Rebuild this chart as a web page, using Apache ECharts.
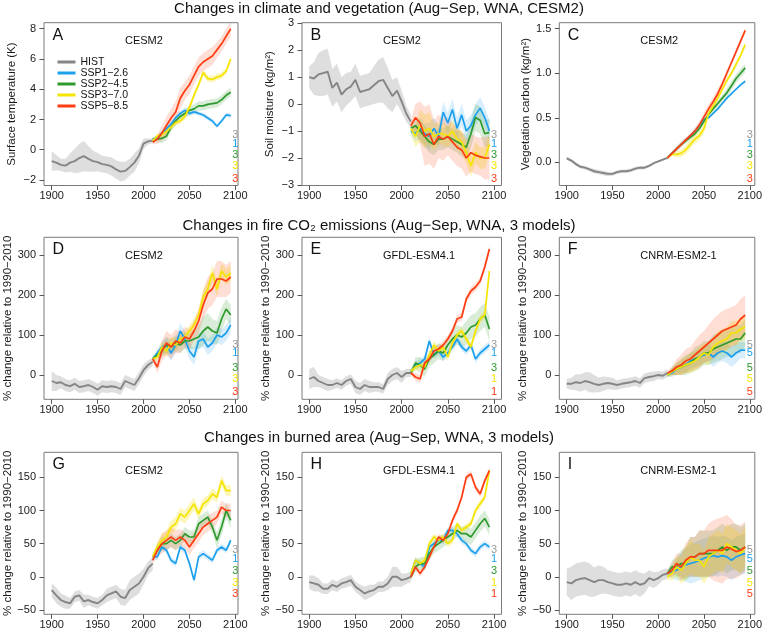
<!DOCTYPE html>
<html><head><meta charset="utf-8">
<script src="https://cdn.jsdelivr.net/npm/echarts@6/dist/echarts.min.js"></script>
<style>html,body{margin:0;padding:0;background:#fff}#c{width:765px;height:633px}</style>
</head><body><div id="c"></div>
<script>
// ---------------- DATA ----------------
const histYears = [1900,1905,1910,1915,1920,1925,1930,1935,1940,1945,1950,1955,1960,1965,1970,1975,1980,1985,1990,1995,2000,2005,2010];
const sspYears = [2010,2015,2020,2025,2030,2035,2040,2045,2050,2055,2060,2065,2070,2075,2080,2085,2090,2095];
const scenarioNames = ['HIST','SSP1−2.6','SSP2−4.5','SSP3−7.0','SSP5−8.5'];
const xTicks = [1900,1950,2000,2050,2100];
const rowTitles = ['Changes in climate and vegetation (Aug−Sep, WNA, CESM2)','Changes in fire CO₂ emissions (Aug−Sep, WNA, 3 models)','Changes in burned area (Aug−Sep, WNA, 3 models)'];

// Panel A: surface temperature (K), CESM2
const histA = [-0.75,-0.85,-1.0,-1.05,-0.85,-0.75,-0.55,-0.42,-0.6,-0.75,-0.82,-0.95,-1.0,-1.1,-1.3,-1.45,-1.4,-1.15,-0.85,-0.4,0.4,0.55,0.6];
const histBandA = [0.65,0.5,0.4,0.45,0.6,0.8,0.95,1.0,0.85,0.7,0.6,0.55,0.55,0.6,0.6,0.65,0.6,0.55,0.6,0.5,0.35,0.2,0.15];
const ssp126A = [0.7,0.8,1.1,1.4,1.7,2.1,2.4,2.6,2.4,2.5,2.4,2.3,2.1,1.9,1.55,1.9,2.3,2.25];
const ssp245A = [0.7,0.7,0.75,0.9,1.5,1.9,2.2,2.4,2.6,2.7,2.9,2.9,3.0,3.05,3.1,3.3,3.6,3.8];
const ssp370A = [0.6,0.9,1.0,1.2,1.5,1.8,1.9,2.2,2.8,3.6,4.3,5.1,4.7,4.65,4.8,4.9,5.2,6.0];
const ssp585A = [0.5,0.7,1.1,1.6,2.1,2.5,3.4,3.9,4.3,4.9,5.5,5.8,6.0,6.2,6.6,7.0,7.5,8.0];
const band126A = [0.1,0.15,0.2,0.2,0.2,0.2,0.2,0.2,0.2,0.15,0.15,0.15,0.15,0.15,0.15,0.15,0.15,0.15];
const band245A = [0.1,0.2,0.3,0.3,0.3,0.3,0.3,0.3,0.3,0.3,0.3,0.3,0.3,0.3,0.3,0.3,0.3,0.3];
const band370A = [0.1,0.15,0.2,0.2,0.2,0.2,0.2,0.2,0.2,0.2,0.2,0.2,0.2,0.2,0.2,0.2,0.2,0.2];
const band585A = [0.15,0.3,0.5,0.6,0.6,0.7,0.7,0.6,0.6,0.6,0.6,0.6,0.6,0.6,0.5,0.5,0.5,0.5];

// Panel B: soil moisture, CESM2
const histB = [1.0,0.95,1.1,1.15,1.2,0.6,0.8,0.35,0.55,0.65,0.9,0.45,0.5,0.55,0.7,0.85,0.9,0.6,0.3,0.5,0.1,-0.35,-0.65];
const histBandB = [0.4,0.6,0.8,0.85,0.85,0.7,0.7,0.65,0.6,0.55,0.6,0.6,0.6,0.6,0.7,0.8,0.85,0.75,0.6,0.5,0.4,0.3,0.25];
const ssp126B = [-1.0,-1.1,-0.9,-1.1,-1.2,-0.9,-1.2,-0.3,-0.7,-0.2,-0.9,-0.4,-1.0,-0.8,-0.4,-0.15,-0.5,-1.0];
const ssp245B = [-0.9,-0.8,-1.0,-1.2,-1.4,-1.5,-1.3,-1.3,-1.2,-1.3,-1.4,-1.5,-1.6,-1.1,-0.5,-0.6,-1.1,-1.05];
const ssp370B = [-0.9,-1.2,-0.8,-1.0,-0.9,-1.2,-1.1,-1.1,-1.2,-1.0,-1.3,-1.4,-1.8,-2.3,-1.8,-2.0,-2.0,-1.5];
const ssp585B = [-0.8,-0.5,-0.7,-1.2,-1.1,-1.5,-1.2,-1.3,-1.2,-1.4,-1.6,-1.7,-2.0,-1.8,-1.9,-1.95,-2.0,-2.0];
const band126B = [0.2,0.3,0.4,0.4,0.5,0.4,0.4,0.4,0.4,0.4,0.4,0.4,0.4,0.4,0.4,0.4,0.4,0.4];
const band245B = [0.2,0.3,0.4,0.4,0.4,0.4,0.4,0.4,0.4,0.4,0.4,0.45,0.45,0.5,0.5,0.5,0.5,0.5];
const band370B = [0.2,0.4,0.6,0.6,0.6,0.5,0.4,0.4,0.4,0.4,0.4,0.4,0.4,0.4,0.4,0.4,0.4,0.4];
const band585B = [0.2,0.5,0.8,1.1,1.1,0.9,0.8,0.8,0.7,0.7,0.7,0.7,0.7,0.7,0.7,0.7,0.8,0.8];

// Panel C: vegetation carbon, CESM2
const histC = [0.045,0.02,-0.02,-0.05,-0.06,-0.08,-0.1,-0.11,-0.12,-0.13,-0.13,-0.11,-0.1,-0.1,-0.09,-0.07,-0.06,-0.06,-0.04,-0.01,0.01,0.03,0.05];
const histBandC = [0.02,0.02,0.02,0.02,0.02,0.02,0.025,0.025,0.025,0.025,0.02,0.02,0.02,0.02,0.02,0.02,0.02,0.02,0.015,0.015,0.01,0.01,0.01];
const ssp126C = [0.05,0.1,0.15,0.2,0.25,0.3,0.35,0.42,0.48,0.5,0.55,0.6,0.66,0.72,0.77,0.82,0.87,0.91];
const ssp245C = [0.05,0.1,0.15,0.2,0.24,0.28,0.32,0.38,0.46,0.54,0.6,0.66,0.72,0.78,0.86,0.94,1.0,1.06];
const ssp370C = [0.05,0.09,0.09,0.1,0.14,0.2,0.26,0.3,0.38,0.55,0.63,0.72,0.82,0.92,1.0,1.1,1.2,1.32];
const ssp585C = [0.05,0.1,0.15,0.2,0.25,0.3,0.35,0.42,0.51,0.6,0.68,0.77,0.88,1.0,1.12,1.24,1.36,1.48];
const band126C = [0.01,0.01,0.015,0.015,0.015,0.015,0.015,0.015,0.015,0.015,0.015,0.015,0.015,0.015,0.015,0.015,0.015,0.015];
const band245C = [0.01,0.02,0.02,0.03,0.03,0.03,0.03,0.03,0.03,0.03,0.03,0.04,0.04,0.05,0.05,0.05,0.05,0.05];
const band370C = [0.01,0.02,0.03,0.04,0.05,0.05,0.05,0.05,0.05,0.04,0.03,0.03,0.03,0.03,0.03,0.03,0.03,0.03];
const band585C = [0.01,0.02,0.03,0.03,0.03,0.03,0.04,0.04,0.05,0.05,0.05,0.05,0.04,0.04,0.03,0.03,0.03,0.03];

// Panel D: fire CO2, CESM2
const histD = [-15,-20,-18,-25,-28,-22,-30,-28,-25,-30,-37,-28,-30,-28,-30,-35,-15,-20,-25,-8,12,25,33];
const histBandD = [25,20,15,15,15,15,15,15,15,15,15,15,15,15,15,15,15,15,15,15,15,12,10];
const ssp126D = [40,55,70,75,55,75,110,90,60,45,85,90,70,80,100,95,105,125];
const ssp245D = [40,50,60,75,70,80,75,85,85,90,95,110,120,110,105,140,165,150];
const ssp370D = [40,45,70,60,80,75,90,95,110,125,150,195,215,255,215,260,245,255];
const ssp585D = [40,20,60,80,70,85,80,95,90,110,135,175,205,215,240,240,235,245];
const band126D = [5,10,15,20,20,20,20,20,20,20,20,20,20,20,20,20,20,20];
const band245D = [5,10,15,20,20,20,20,20,20,25,30,35,35,30,30,30,25,25];
const band370D = [5,10,15,15,15,15,15,15,15,15,15,20,20,20,20,20,20,20];
const band585D = [5,15,25,30,30,30,25,25,25,25,30,35,40,40,45,45,40,40];

// Panel E: fire CO2, GFDL-ESM4.1
const histE = [-10,-5,-15,-20,-25,-25,-20,-25,-15,-10,-30,-35,-25,-30,-30,-30,-35,-10,0,5,-5,5,5];
const histBandE = [25,25,15,15,15,12,12,12,12,12,15,15,15,15,12,12,12,15,15,15,15,10,10];
const ssp126E = [10,25,30,40,85,50,60,45,55,70,90,70,60,75,40,55,65,75];
const ssp245E = [5,30,25,15,40,50,60,55,75,90,100,95,105,120,125,140,150,115];
const ssp370E = [10,20,25,20,50,75,60,70,45,80,100,110,90,70,110,140,150,260];
const ssp585E = [5,-5,-10,30,40,60,65,75,90,110,140,145,190,210,220,235,270,315];
const band126E = [5,10,10,10,10,10,10,10,10,10,10,10,10,10,10,10,10,10];
const band245E = [5,15,20,20,20,20,20,20,20,25,25,25,30,30,30,30,30,30];
const band370E = [5,10,10,10,10,10,10,10,10,10,10,10,10,10,10,10,10,10];
const band585E = [5,10,10,10,10,10,10,10,10,10,10,10,10,10,10,10,10,10];

// Panel F: fire CO2, CNRM-ESM2-1
const histF = [-22,-22,-18,-20,-15,-18,-22,-25,-22,-20,-22,-25,-22,-20,-18,-15,-20,-8,-5,-3,0,-2,5];
const histBandF = [12,15,20,22,22,25,22,18,18,15,15,12,12,12,12,12,12,12,12,12,10,10,10];
const ssp126F = [0,5,15,20,25,35,40,45,50,55,45,55,60,55,45,55,62,62];
const ssp245F = [0,10,15,20,25,30,40,45,55,55,65,70,75,80,85,90,90,105];
const ssp370F = [0,8,15,20,25,30,35,45,55,50,70,80,85,90,105,105,115,120];
const ssp585F = [5,10,20,25,35,40,50,60,70,80,90,100,110,115,120,125,140,150];
const band126F = [5,10,15,15,20,20,20,20,20,20,25,25,25,25,25,25,20,20];
const band245F = [5,10,15,20,25,25,30,30,30,30,35,35,35,35,35,35,35,35];
const band370F = [5,10,15,20,20,25,25,25,25,25,25,30,30,30,30,30,30,30];
const band585F = [5,10,20,25,30,30,35,40,40,45,50,50,50,50,50,50,50,50];

// Panel G: burned area, CESM2
const histG = [-20,-28,-35,-38,-40,-30,-28,-37,-35,-38,-40,-35,-28,-25,-22,-30,-32,-20,-15,-10,0,13,20];
const histBandG = [10,12,10,10,8,8,8,10,8,8,8,8,10,10,10,12,12,15,15,15,12,10,10];
const ssp126G = [30,30,45,40,25,20,45,40,20,-5,30,35,30,25,40,45,40,55];
const ssp245G = [30,40,50,50,55,50,55,65,60,60,80,85,90,75,55,75,100,85];
const ssp370G = [30,45,55,60,75,80,95,90,100,110,95,110,115,125,120,145,130,130];
const ssp585G = [25,40,50,55,60,55,60,55,45,55,65,75,80,85,90,105,100,100];
const band126G = [5,5,5,5,5,5,5,5,5,5,5,5,5,5,5,5,5,5];
const band245G = [5,8,10,10,10,10,10,10,10,10,10,10,10,10,12,12,12,12];
const band370G = [5,8,10,10,10,10,10,10,10,10,8,8,8,8,8,8,8,8];
const band585G = [5,10,15,15,15,15,12,12,12,12,12,12,12,12,10,10,10,10];

// Panel H: burned area, GFDL-ESM4.1
const histH = [-8,-10,-12,-18,-18,-12,-15,-10,-8,-5,-15,-20,-25,-22,-20,-15,-15,-10,0,0,-5,-3,0];
const histBandH = [10,12,10,8,8,8,8,8,8,8,8,8,10,10,8,8,8,10,15,15,10,8,8];
const ssp126H = [5,25,20,15,45,50,55,55,70,70,65,55,50,40,35,45,50,45];
const ssp245H = [0,15,20,20,35,45,50,55,60,65,70,65,65,60,70,80,88,75];
const ssp370H = [5,25,20,25,50,60,55,60,50,55,80,70,75,80,100,110,120,160];
const ssp585H = [0,15,5,15,30,45,60,55,65,85,100,120,150,155,135,125,145,160];
const band126H = [4,5,5,5,5,5,5,5,5,5,5,5,5,5,5,5,5,5];
const band245H = [5,8,10,10,10,10,10,10,10,10,10,10,12,12,12,12,12,12];
const band370H = [4,5,5,5,5,5,5,5,5,5,5,5,5,5,5,5,5,5];
const band585H = [4,5,5,5,5,5,5,5,5,5,5,5,5,5,5,5,5,5];

// Panel I: burned area, CNRM-ESM2-1
const histI = [-8,-10,-5,-3,-2,-5,-8,-5,-5,-8,-10,-12,-12,-10,-12,-8,-12,-10,-2,-5,-2,3,5];
const histBandI = [20,25,25,25,25,25,22,22,20,18,18,18,18,18,18,18,18,15,12,12,10,8,8];
const ssp126I = [5,8,10,15,18,20,22,25,28,30,32,30,32,30,25,30,33,35];
const ssp245I = [5,15,15,20,20,30,30,35,35,35,35,40,45,40,45,45,40,45];
const ssp370I = [0,5,15,10,20,30,25,25,15,30,35,40,35,50,45,40,35,45];
const ssp585I = [5,10,20,15,25,30,30,35,35,40,40,40,40,45,42,38,40,45];
const band126I = [5,10,15,20,25,30,30,30,30,30,30,30,30,30,30,30,30,30];
const band245I = [5,10,15,20,25,30,30,35,35,35,35,35,35,35,35,35,35,35];
const band370I = [5,10,15,20,25,25,25,25,25,30,30,30,30,30,30,30,30,30];
const band585I = [5,10,15,20,25,30,30,35,35,40,45,48,50,48,45,40,38,38];

// member counts (right-side labels)
const countsA = [3,1,3,3,3], countsB = [3,1,3,3,3], countsC = [3,1,3,3,3];
const countsD = [3,1,3,3,3], countsE = [3,1,3,1,1], countsF = [5,5,5,5,5];
const countsG = [3,1,3,3,3], countsH = [3,1,3,1,1], countsI = [5,5,5,5,5];

// ---------------- STYLE / LAYOUT ----------------
const FONT = '"Liberation Sans", Arial, Helvetica, sans-serif';
const colors = ['#858585','#1ca0ee','#2e9a2e','#f5e400','#ff3c12'];
const bandColors = ['#bdbdbd','#3aaaf0','#3a9e3a','#f5e400','#ff6a40'];
const bandOpacity = [0.5, 0.2, 0.2, 0.28, 0.22];
const colLeft = [44, 302, 559.3], colWidth = [194, 199.5, 195.7];
const colXMin = [1891.6, 1892.2, 1891.9], colXMax = [2102.9, 2108.1, 2105.5];
const rowTop = [22.7, 237.3, 452.3], rowHeight = [162.8, 162, 162];
const rowTitleY = [9, 225.7, 438.3];
const countOffsets = [[112,121.5,132.5,143.5,156],[107.5,116,130.5,142,155],[97.5,107,119,131,142]];
const yPct = '% change relative to 1990−2010';

const panels = [
  {letter:'A', model:'CESM2', row:0, col:0, yName:'Surface temperature (K)', yMin:-2.364, yMax:8.397, yTicks:[-2,0,2,4,6,8], dec:0, nameGap:26, hist:histA, histBand:histBandA, ssp:[ssp126A,ssp245A,ssp370A,ssp585A], band:[band126A,band245A,band370A,band585A], counts:countsA},
  {letter:'B', model:'CESM2', row:0, col:1, yName:'Soil moisture (kg/m²)', yMin:-3.02, yMax:3.02, yTicks:[-3,-2,-1,0,1,2,3], dec:0, nameGap:26.5, hist:histB, histBand:histBandB, ssp:[ssp126B,ssp245B,ssp370B,ssp585B], band:[band126B,band245B,band370B,band585B], counts:countsB},
  {letter:'C', model:'CESM2', row:0, col:2, yName:'Vegetation carbon (kg/m²)', yMin:-0.26, yMax:1.567, yTicks:[0,0.5,1.0,1.5], dec:1, nameGap:26, hist:histC, histBand:histBandC, ssp:[ssp126C,ssp245C,ssp370C,ssp585C], band:[band126C,band245C,band370C,band585C], counts:countsC},
  {letter:'D', model:'CESM2', row:1, col:0, yName:yPct, yMin:-60.75, yMax:344.25, yTicks:[0,100,200,300], dec:0, nameGap:29, hist:histD, histBand:histBandD, ssp:[ssp126D,ssp245D,ssp370D,ssp585D], band:[band126D,band245D,band370D,band585D], counts:countsD},
  {letter:'E', model:'GFDL-ESM4.1', row:1, col:1, yName:yPct, yMin:-60.75, yMax:344.25, yTicks:[0,100,200,300], dec:0, nameGap:30, hist:histE, histBand:histBandE, ssp:[ssp126E,ssp245E,ssp370E,ssp585E], band:[band126E,band245E,band370E,band585E], counts:countsE},
  {letter:'F', model:'CNRM-ESM2-1', row:1, col:2, yName:yPct, yMin:-60.75, yMax:344.25, yTicks:[0,100,200,300], dec:0, nameGap:30, hist:histF, histBand:histBandF, ssp:[ssp126F,ssp245F,ssp370F,ssp585F], band:[band126F,band245F,band370F,band585F], counts:countsF},
  {letter:'G', model:'CESM2', row:2, col:0, yName:yPct, yMin:-56.5, yMax:187.7, yTicks:[-50,0,50,100,150], dec:0, nameGap:29.5, hist:histG, histBand:histBandG, ssp:[ssp126G,ssp245G,ssp370G,ssp585G], band:[band126G,band245G,band370G,band585G], counts:countsG},
  {letter:'H', model:'GFDL-ESM4.1', row:2, col:1, yName:yPct, yMin:-56.5, yMax:187.7, yTicks:[-50,0,50,100,150], dec:0, nameGap:29, hist:histH, histBand:histBandH, ssp:[ssp126H,ssp245H,ssp370H,ssp585H], band:[band126H,band245H,band370H,band585H], counts:countsH},
  {letter:'I', model:'CNRM-ESM2-1', row:2, col:2, yName:yPct, yMin:-56.5, yMax:187.7, yTicks:[-50,0,50,100,150], dec:0, nameGap:30, hist:histI, histBand:histBandI, ssp:[ssp126I,ssp245I,ssp370I,ssp585I], band:[band126I,band245I,band370I,band585I], counts:countsI}
];

function fmt(dec) {
  return function (v) {
    const s = dec ? Math.abs(v).toFixed(dec) : String(Math.abs(v));
    return v < 0 ? '−' + s : s;
  };
}

const series = [];
// Uncertainty band: polygon of (center + hw) forward, then (center - hw) backward,
// drawn through the grid's coordinate system by a custom series.
function addBand(pi, years, center, hw, k) {
  const upper = years.map((y, j) => [y, center[j] + hw[j]]);
  const lower = years.map((y, j) => [y, center[j] - hw[j]]).reverse();
  const poly = upper.concat(lower);
  series.push({
    type: 'custom', xAxisIndex: pi, yAxisIndex: pi, silent: true, z: 1, clip: true, animation: false,
    data: poly,
    encode: {x: 0, y: 1},
    renderItem: function (params, api) {
      if (params.dataIndex !== 0) return null;
      const pts = poly.map(d => api.coord(d));
      return {type: 'polygon', shape: {points: pts}, style: {fill: bandColors[k], opacity: bandOpacity[k]}};
    }
  });
}
function addLine(pi, years, vals, k) {
  series.push({type:'line', name: scenarioNames[k], xAxisIndex:pi, yAxisIndex:pi, symbol:'none', silent:true, z:2, animation:false, emphasis:{disabled:true},
    data: years.map((y, j) => [y, vals[j]]), lineStyle:{color: colors[k], width: k === 0 ? 1.9 : 1.7}, itemStyle:{color: colors[k]}});
}
panels.forEach((p, i) => {
  addBand(i, histYears, p.hist, p.histBand, 0);
  p.ssp.forEach((v, k) => addBand(i, sspYears, v, p.band[k], k + 1));
});
panels.forEach((p, i) => {
  addLine(i, histYears, p.hist, 0);
  p.ssp.forEach((v, k) => addLine(i, sspYears, v, k + 1));
});

const option = {
  animation: false,
  backgroundColor: '#ffffff',
  textStyle: {fontFamily: FONT},
  grid: panels.map(p => ({left: colLeft[p.col], top: rowTop[p.row], width: colWidth[p.col], height: rowHeight[p.row], show: true, borderColor: '#7a7a7a', borderWidth: 1, backgroundColor: 'transparent'})),
  xAxis: panels.map((p, i) => ({
    type: 'value', gridIndex: i, min: colXMin[p.col], max: colXMax[p.col],
    axisLine: {show: false, onZero: false}, splitLine: {show: false},
    axisTick: {show: true, length: 4.5, lineStyle: {color: '#555', width: 1}, customValues: xTicks},
    axisLabel: {customValues: xTicks, fontSize: 11, color: '#1a1a1a', margin: 5, fontFamily: FONT, formatter: v => String(v)}
  })),
  yAxis: panels.map((p, i) => ({
    type: 'value', gridIndex: i, min: p.yMin, max: p.yMax,
    axisLine: {show: false, onZero: false}, splitLine: {show: false},
    axisTick: {show: true, length: 4.5, lineStyle: {color: '#555', width: 1}, customValues: p.yTicks},
    axisLabel: {customValues: p.yTicks, fontSize: 11, color: '#1a1a1a', margin: 8, fontFamily: FONT, formatter: fmt(p.dec)},
    name: p.yName, nameLocation: 'middle', nameRotate: 90, nameGap: p.nameGap,
    nameTextStyle: {fontSize: 11.5, color: '#1a1a1a', fontFamily: FONT}
  })),
  legend: {
    data: scenarioNames, orient: 'vertical', left: 57.5, top: 56.5, padding: 0, itemGap: 0,
    itemWidth: 18, itemHeight: 3, icon: 'rect', selectedMode: false,
    textStyle: {fontSize: 10.5, lineHeight: 9.4, color: '#111', fontFamily: FONT}
  },
  series: series
};

const chart = echarts.init(document.getElementById('c'), null, {renderer: 'canvas'});
chart.setOption(option);

function txt(x, y, text, size, fill, align) {
  return {type: 'text', x: x, y: y, silent: true, z: 50,
    style: {text: text, fontSize: size, fontFamily: FONT, fill: fill, textAlign: align, align: align, textVerticalAlign: 'middle', verticalAlign: 'middle'}};
}
const graphics = [];
rowTitles.forEach((t, r) => graphics.push(txt(379, rowTitleY[r], t, 15, '#111', 'center')));
panels.forEach((p, i) => {
  const left = colLeft[p.col], top = rowTop[p.row];
  graphics.push(txt(left + 8.5, top + 12.5, p.letter, 16, '#111', 'left'));
  graphics.push(txt(left + 81, top + 18.5, p.model, 11, '#111', 'left'));
  const x = chart.convertToPixel({xAxisIndex: i}, 2100);
  p.counts.forEach((c, k) => graphics.push(txt(x, top + countOffsets[p.row][k], String(c), 11, k === 0 ? '#999999' : colors[k], 'center')));
});
chart.setOption({graphic: graphics});
</script></body></html>
